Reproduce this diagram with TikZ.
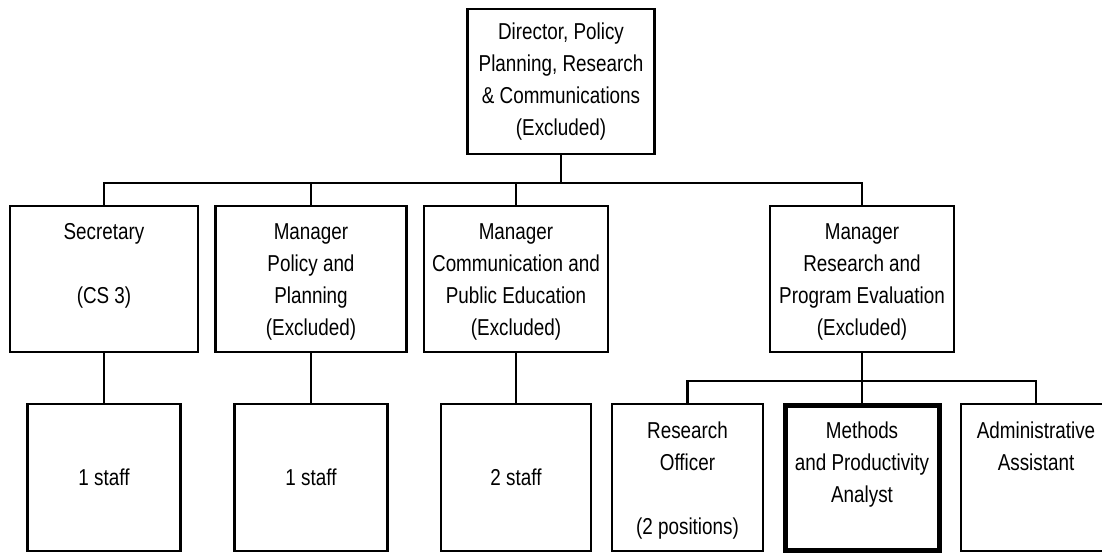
\documentclass[tikz,border=0pt]{standalone}
\usepackage{fontspec}
\setmainfont{Liberation Sans}[FakeStretch=0.82]
\begin{document}
\begin{tikzpicture}[x=1pt,y=-1pt,
  box/.style={draw=black, line width=2.8pt, minimum width=#1, inner sep=0pt, fill=white},
  bigbox/.style={draw=black, line width=5pt, minimum width=#1, inner sep=0pt, fill=white},
  txt/.style={font=\fontsize{23}{32}\selectfont, align=center, inner sep=0pt, text=black},
  conn/.style={draw=black, line width=2.8pt}
]
\path[use as bounding box, clip] (0,0) rectangle (1102,554);
\fill[white] (0,0) rectangle (1102,554);

% top
\node[box=187, minimum height=145] (top) at (561,81.5) {};
\node[txt] (topt) at (top.center) {Director, Policy\\Planning, Research\\\& Communications\\(Excluded)};

% managers
\node[box=188, minimum height=146] (sec) at (104,279) {};
\node[box=191, minimum height=146] (pol) at (311,279) {};
\node[box=184, minimum height=146] (com) at (516,279) {};
\node[box=184, minimum height=146] (rmgr) at (862,279) {};

\node[txt, anchor=north] (sect) at ([yshift=-19pt]sec.north) {Secretary\\\mbox{}\\(CS 3)};
\node[txt, anchor=north] (polt) at ([yshift=-19pt]pol.north) {Manager\\Policy and\\Planning\\(Excluded)};
\node[txt, anchor=north] (comt) at ([yshift=-19pt]com.north) {Manager\\Communication and\\Public Education\\(Excluded)};
\node[txt, anchor=north] (rmgrt) at ([yshift=-19pt]rmgr.north) {Manager\\Research and\\Program Evaluation\\(Excluded)};

% staff boxes
\node[box=153, minimum height=147] (s1) at (104,477.5) {};
\node[box=153, minimum height=147] (s2) at (311,477.5) {};
\node[box=150, minimum height=147] (s3) at (516,477.5) {};
\node[txt] (s1t) at (s1.center) {1 staff};
\node[txt] (s2t) at (s2.center) {1 staff};
\node[txt] (s3t) at (s3.center) {2 staff};

% research unit
\node[box=151, minimum height=147] (ro) at (687.5,477.5) {};
\node[bigbox=154, minimum height=145] (mpa) at (862,478) {};
\node[box=150, minimum height=147] (aa) at (1036,477.5) {};
\node[txt, anchor=north] (rot) at ([yshift=-19pt]ro.north) {Research\\Officer\\\mbox{}\\(2 positions)};
\node[txt, anchor=north] (mpat) at ([yshift=-19pt]mpa.north) {Methods\\and Productivity\\Analyst};
\node[txt, anchor=north] (aat) at ([yshift=-19pt]aa.north) {Administrative\\Assistant};

% connectors
\coordinate (bus) at (561,183);
\coordinate (sub) at (862,381);
\draw[conn] (top.south) -- (bus);
\draw[conn] (sec.north) |- (bus) -| (rmgr.north);
\draw[conn] (pol.north) -- (pol.north |- bus);
\draw[conn] (com.north) -- (com.north |- bus);

\draw[conn] (sec.south) -- (s1.north);
\draw[conn] (pol.south) -- (s2.north);
\draw[conn] (com.south) -- (s3.north);

\draw[conn] (rmgr.south) -- (mpa.north);
\draw[conn] (ro.north) |- (sub) -| (aa.north);
\end{tikzpicture}
\end{document}
